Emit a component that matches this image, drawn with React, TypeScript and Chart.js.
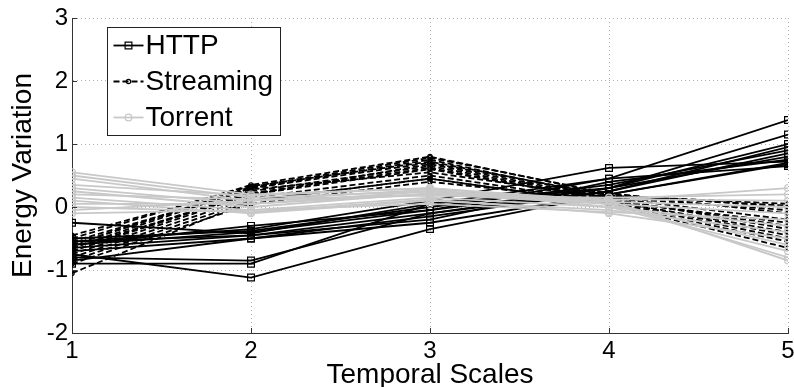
import React, { useEffect, useRef } from "react";
import { Chart, registerables } from "chart.js";

Chart.register(...registerables);

// ---- Data ----
const temporalScales = [1, 2, 3, 4, 5];
const yTickValues = [-2, -1, 0, 1, 2, 3];
const seriesNames = ["HTTP", "Streaming", "Torrent"];

const httpSeries = [
  [-0.25, -0.42, 0.05, 0.45, 1.38],
  [-0.55, -0.35, 0.1, 0.62, 0.72],
  [-0.6, -0.4, -0.05, 0.3, 1.15],
  [-0.65, -0.45, -0.1, 0.3, 1.0],
  [-0.7, -0.5, -0.15, 0.25, 0.95],
  [-0.5, -0.38, 0.0, 0.35, 0.9],
  [-0.8, -0.85, -0.1, 0.25, 0.85],
  [-0.9, -0.9, 0.05, 0.3, 0.8],
  [-0.75, -1.12, -0.35, 0.2, 0.7],
  [-0.55, -0.45, -0.2, 0.4, 0.75],
  [-0.6, -0.3, -0.05, 0.45, 0.65],
  [-0.85, -0.5, -0.25, 0.2, 0.68],
];

const streamingSeries = [
  [-1.05, 0.1, 0.45, 0.05, -0.65],
  [-0.5, 0.35, 0.8, 0.2, 0.0],
  [-0.6, 0.3, 0.75, 0.15, -0.05],
  [-0.65, 0.3, 0.7, 0.18, 0.02],
  [-0.7, 0.25, 0.65, 0.12, -0.3],
  [-0.75, 0.2, 0.6, 0.1, -0.4],
  [-0.55, 0.28, 0.55, 0.15, -0.2],
  [-0.8, 0.15, 0.5, 0.08, -0.5],
  [-0.85, 0.1, 0.45, 0.05, -0.55],
  [-0.6, 0.32, 0.78, 0.22, -0.1],
  [-0.9, 0.05, 0.4, 0.1, -0.45],
  [-0.45, 0.33, 0.72, 0.18, 0.05],
  [-0.7, 0.22, 0.62, 0.1, -0.25],
  [-0.65, 0.2, 0.68, 0.14, -0.35],
];

const torrentSeries = [
  [0.55, 0.2, 0.3, 0.1, -0.85],
  [0.5, 0.15, 0.25, 0.05, -0.8],
  [0.45, 0.1, 0.28, 0.0, -0.7],
  [0.3, 0.05, 0.2, 0.05, -0.6],
  [0.25, 0.0, 0.22, 0.1, 0.3],
  [0.2, 0.12, 0.18, 0.15, 0.2],
  [0.15, -0.05, 0.15, 0.0, -0.3],
  [0.1, -0.1, 0.1, -0.05, -0.4],
  [0.05, 0.05, 0.25, 0.12, 0.1],
  [0.0, -0.08, 0.12, -0.1, -0.5],
  [-0.05, 0.1, 0.2, 0.08, 0.0],
  [-0.1, -0.05, 0.05, -0.08, -0.2],
  [0.35, 0.18, 0.3, 0.05, -0.1],
];

// ---- Styles ----
const FONT = "'Liberation Sans', Arial, Helvetica, sans-serif";

const classStyles = [
  { color: "#000000", dash: [] as number[], pointStyle: "rect", radius: 4.8, order: 3 },
  { color: "#000000", dash: [6, 3], pointStyle: "circle", radius: 2.2, order: 2 },
  { color: "#c8c8c8", dash: [] as number[], pointStyle: "circle", radius: 3.4, order: 1 },
];

const LINE_W = 1.8;

const allSeries = [httpSeries, streamingSeries, torrentSeries];

function buildDatasets() {
  const ds: any[] = [];
  allSeries.forEach((group, gi) => {
    const st = classStyles[gi];
    group.forEach((vals, i) => {
      ds.push({
        label: `${seriesNames[gi]} ${i + 1}`,
        data: temporalScales.map((x, k) => ({ x, y: vals[k] })),
        borderColor: st.color,
        borderWidth: LINE_W,
        borderDash: st.dash,
        pointStyle: st.pointStyle,
        pointRadius: st.radius,
        pointBorderColor: st.color,
        pointBorderWidth: 1.2,
        pointBackgroundColor: "rgba(255,255,255,0)",
        fill: false,
        tension: 0,
        order: st.order,
      });
    });
  });
  return ds;
}

const inwardTicksPlugin = {
  id: "inwardTicks",
  afterDraw(chart: any) {
    const { ctx, chartArea, scales } = chart;
    ctx.save();
    ctx.strokeStyle = "#333";
    ctx.lineWidth = 1;
    ctx.beginPath();
    scales.x.ticks.forEach((t: any) => {
      const px = Math.round(scales.x.getPixelForValue(t.value)) + 0.5;
      ctx.moveTo(px, chartArea.bottom);
      ctx.lineTo(px, chartArea.bottom - 5);
    });
    scales.y.ticks.forEach((t: any) => {
      const py = Math.round(scales.y.getPixelForValue(t.value)) + 0.5;
      ctx.moveTo(chartArea.left, py);
      ctx.lineTo(chartArea.left + 5, py);
    });
    ctx.stroke();
    ctx.restore();
  },
};

const boxLegendPlugin = {
  id: "boxLegend",
  afterDraw(chart: any) {
    const { ctx, chartArea } = chart;
    const bx = chartArea.left + 35.5;
    const by = chartArea.top + 9.5;
    const bw = 173;
    const bh = 108;
    ctx.save();
    ctx.fillStyle = "#ffffff";
    ctx.fillRect(bx, by, bw, bh);
    ctx.strokeStyle = "#222";
    ctx.lineWidth = 1;
    ctx.setLineDash([]);
    ctx.strokeRect(bx, by, bw, bh);
    seriesNames.forEach((name, i) => {
      const st = classStyles[i];
      const y = by + 18 + i * 36;
      const x0 = bx + 6;
      const x1 = bx + 36;
      ctx.strokeStyle = st.color;
      ctx.lineWidth = LINE_W;
      ctx.setLineDash(st.dash);
      ctx.beginPath();
      ctx.moveTo(x0, y);
      ctx.lineTo(x1, y);
      ctx.stroke();
      ctx.setLineDash([]);
      ctx.lineWidth = 1.2;
      const cx = (x0 + x1) / 2;
      ctx.beginPath();
      if (st.pointStyle === "rect") {
        const s = st.radius * Math.SQRT1_2;
        ctx.rect(cx - s, y - s, 2 * s, 2 * s);
      } else {
        ctx.arc(cx, y, st.radius, 0, Math.PI * 2);
      }
      ctx.stroke();
      ctx.fillStyle = "#000";
      ctx.font = `28px ${FONT}`;
      ctx.textBaseline = "middle";
      ctx.textAlign = "left";
      ctx.fillText(name, x1 + 2, y + 1);
    });
    ctx.restore();
  },
};

export default function App() {
  const canvasRef = useRef<HTMLCanvasElement | null>(null);

  useEffect(() => {
    if (!canvasRef.current) return;
    const chart = new Chart(canvasRef.current, {
      type: "line",
      data: { datasets: buildDatasets() },
      options: {
        animation: false,
        responsive: false,
        maintainAspectRatio: false,
        devicePixelRatio: 1,
        layout: { padding: { top: 18, right: 4, left: 0, bottom: 0 } },
        plugins: {
          legend: { display: false },
          tooltip: { enabled: false },
          title: { display: false },
        },
        scales: {
          x: {
            type: "linear",
            min: 1,
            max: 5,
            ticks: {
              stepSize: 1,
              color: "#000",
              font: { family: FONT, size: 24 },
              padding: 4,
              maxRotation: 0,
              autoSkip: false,
            },
            grid: { color: "#b0b0b0", lineWidth: 1, drawTicks: false },
            border: { display: true, color: "#333", width: 1, dash: [1, 3] },
            title: {
              display: true,
              text: "Temporal Scales",
              color: "#000",
              font: { family: FONT, size: 28, lineHeight: 1 },
              padding: { top: 0, bottom: -2 },
            },
            afterFit: (s: any) => {
              s.height = 54;
              s.paddingLeft = 0;
              s.paddingRight = 0;
            },
          },
          y: {
            type: "linear",
            min: -2,
            max: 3,
            afterBuildTicks: (s: any) => {
              s.ticks = yTickValues.map((v) => ({ value: v }));
            },
            ticks: {
              color: "#000",
              font: { family: FONT, size: 24 },
              padding: 4,
            },
            grid: { color: "#b0b0b0", lineWidth: 1, drawTicks: false },
            border: { display: true, color: "#333", width: 1, dash: [1, 3] },
            title: {
              display: true,
              text: "Energy Variation",
              color: "#000",
              font: { family: FONT, size: 28, lineHeight: 1 },
              padding: { top: 9, bottom: 0 },
            },
            afterFit: (s: any) => {
              s.width = 72;
              s.paddingTop = 0;
              s.paddingBottom = 0;
            },
          },
        },
      },
      plugins: [inwardTicksPlugin, boxLegendPlugin],
    } as any);
    return () => chart.destroy();
  }, []);

  return (
    <div style={{ position: "fixed", left: 0, top: 0, width: 794, height: 387, background: "#fff" }}>
      <canvas ref={canvasRef} width={794} height={387} style={{ display: "block" }} />
    </div>
  );
}
